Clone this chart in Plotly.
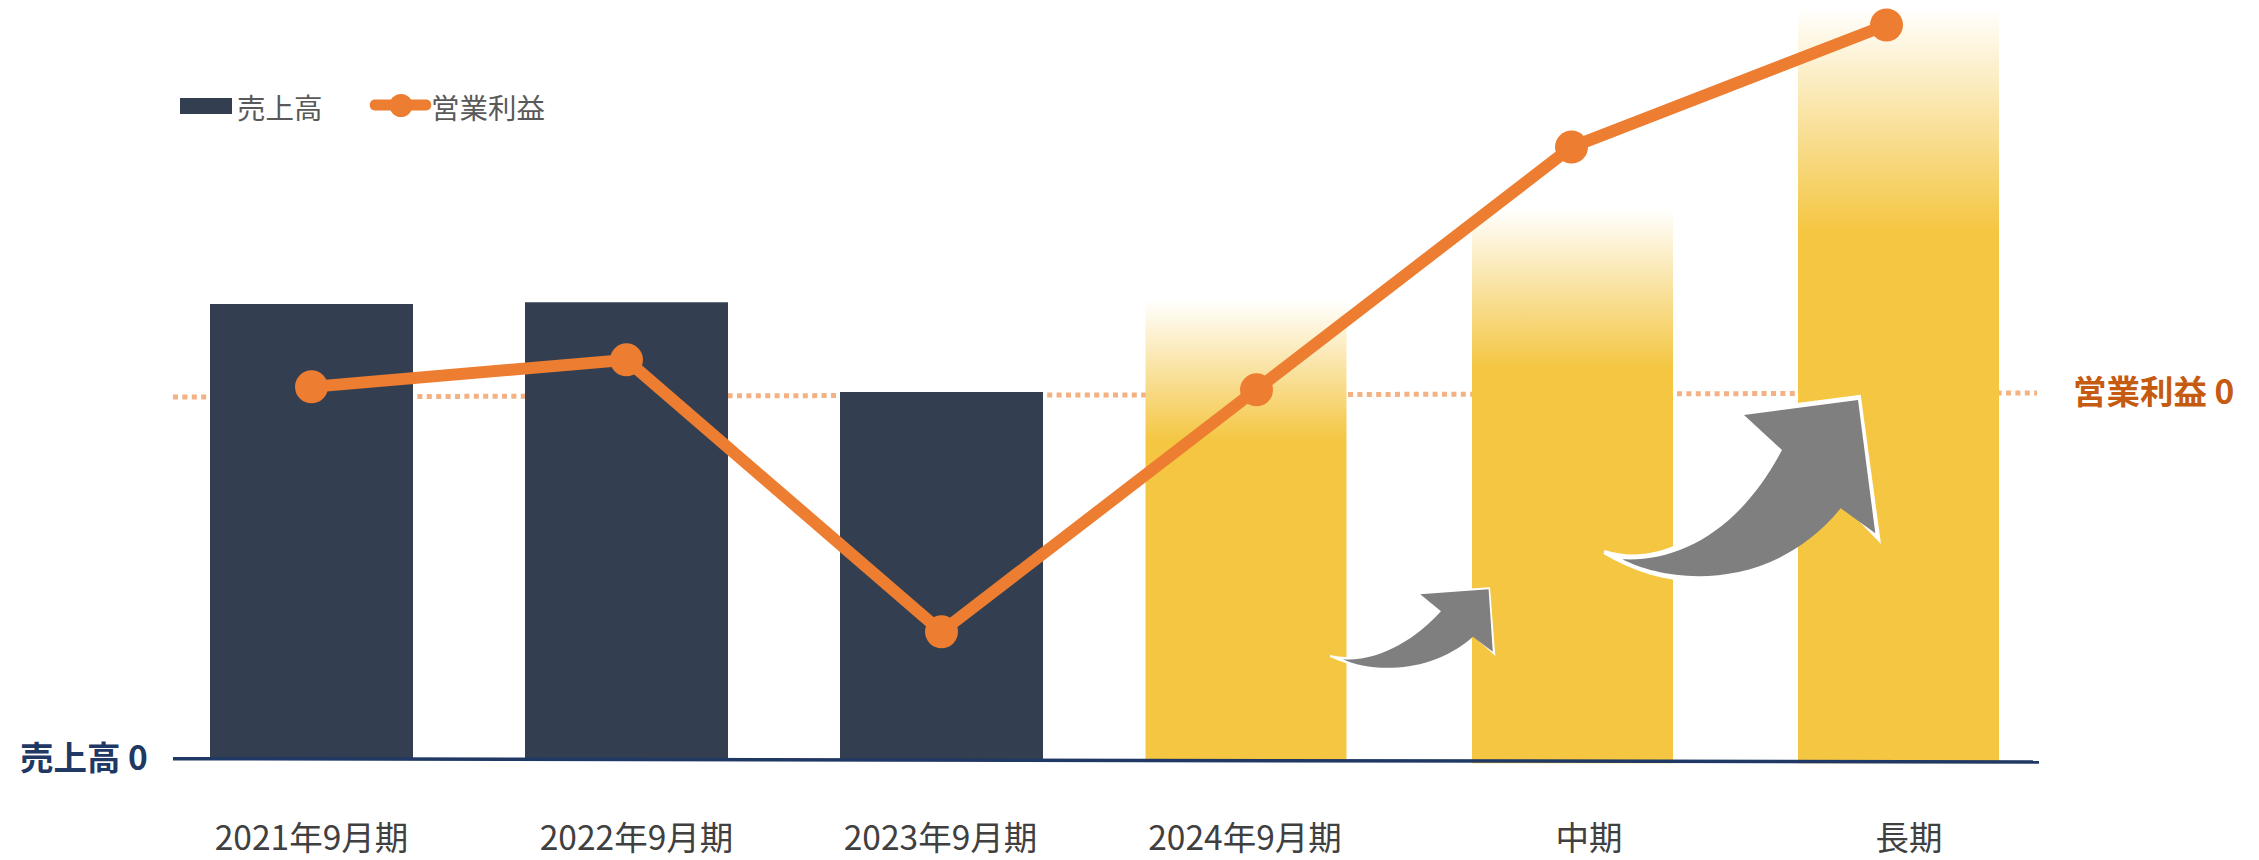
import plotly.graph_objects as go

# Chart data (values are on relative scales: sales index, profit index)
categories = ["2021年9月期", "2022年9月期", "2023年9月期", "2024年9月期", "中期", "長期"]
sales_actual = [100.0, 100.4, 80.7]
sales_plan = [100.9, 121.0, 165.0]
plan_base = [-0.2, -0.7, -0.7]
plan_fade_end = [70.0, 86.0, 116.0]
profit = [2.2, 9.5, -64.0, 1.4, 67.0, 100.0]

# Canvas and scales
W, H = 2259, 860
PLOT_BOTTOM = 764
SALES_ZERO_PX, SALES_PX_PER_UNIT = 760, 4.56
PROFIT_ZERO_PX, PROFIT_PX_PER_UNIT = 395, 3.7
X0_PX, STEP_PX = 311.5, 315.0

NAVY = "#333F50"
YELLOW = "#F4C642"
ORANGE = "#ED7D31"
DOT = "#F4B183"
GREY = "#7F7F7F"
AXIS_NAVY = "#1F3864"
FONT = "Noto Sans CJK JP"


def ux(px):
    return (px - X0_PX) / STEP_PX


def fx(px):
    return px / W


def fy(py):
    return (PLOT_BOTTOM - py) / PLOT_BOTTOM


def path(*segments):
    """Build an SVG path in paper coordinates from (command, x, y, ...) tuples."""
    parts = []
    for seg in segments:
        cmd, coords = seg[0], seg[1:]
        pairs = [
            f"{fx(coords[i]):.5f},{fy(coords[i + 1]):.5f}" for i in range(0, len(coords), 2)
        ]
        parts.append(cmd + " ".join(pairs))
    return " ".join(parts) + " Z"


actual_x = [0, 1, 2]
plan_x = [ux(1246), ux(1572.5), ux(1898.5)]
line_x = [0, 1, 2, 3, 4, 5]
label_x = [ux(311.5), ux(636.5), ux(940.5), ux(1245), ux(1589), ux(1909)]
actual_w = 203 / STEP_PX
plan_w = 201 / STEP_PX

fig = go.Figure()

fig.add_trace(
    go.Bar(
        x=actual_x,
        y=sales_actual,
        width=actual_w,
        marker=dict(color=NAVY, line=dict(width=0)),
        yaxis="y",
        name="売上高",
        showlegend=False,
    )
)

# Plan bars fade from white at the top into solid yellow
for cx, top, base, fade in zip(plan_x, sales_plan, plan_base, plan_fade_end):
    left, right = cx - plan_w / 2, cx + plan_w / 2
    frac = (top - fade) / (top - base)
    fig.add_trace(
        go.Scatter(
            x=[left, right, right, left, left],
            y=[base, base, top, top, base],
            mode="lines",
            line=dict(width=0),
            fill="toself",
            fillcolor=YELLOW,
            fillgradient=dict(
                type="vertical",
                start=top,
                stop=base,
                colorscale=[[0, "#FFFFFF"], [frac, YELLOW], [1, YELLOW]],
            ),
            yaxis="y",
            showlegend=False,
            hoverinfo="skip",
        )
    )

fig.add_trace(
    go.Scatter(
        x=line_x,
        y=profit,
        mode="lines+markers",
        line=dict(color=ORANGE, width=12),
        marker=dict(color=ORANGE, size=33, line=dict(width=0)),
        yaxis="y2",
        name="営業利益",
        showlegend=False,
    )
)

shapes = [
    # Profit zero reference, dotted and behind the bars
    dict(
        type="line", layer="below", xref="paper", yref="y2",
        x0=fx(173), x1=fx(2037), y0=-0.54, y1=0.54,
        line=dict(color=DOT, width=5, dash="5px,4.4px"),
    ),
    # Sales baseline
    dict(
        type="line", layer="above", xref="paper", yref="y",
        x0=fx(173), x1=fx(2039), y0=0.29, y1=-0.44,
        line=dict(color=AXIS_NAVY, width=3.5),
    ),
    # Legend: sales swatch
    dict(
        type="rect", xref="paper", yref="paper",
        x0=fx(180), x1=fx(232), y0=fy(114), y1=fy(98),
        fillcolor=NAVY, line=dict(width=0),
    ),
    # Legend: profit line with rounded ends and a marker
    dict(
        type="path", xref="paper", yref="paper",
        path=path(
            ("M", 375, 99.5), ("L", 426, 99.5),
            ("C", 433, 99.5, 433, 110.5, 426, 110.5),
            ("L", 375, 110.5),
            ("C", 368, 110.5, 368, 99.5, 375, 99.5),
        ),
        fillcolor=ORANGE, line=dict(width=0),
    ),
    dict(
        type="circle", xref="paper", yref="paper",
        x0=fx(389.5), x1=fx(412.5), y0=fy(117), y1=fy(94),
        fillcolor=ORANGE, line=dict(width=0),
    ),
]

# Growth arrows: a white backing polygon under a grey one
big_back = path(
    ("M", 1604.5, 550), ("C", 1630, 558, 1655, 555, 1680, 543),
    ("L", 1775, 450), ("L", 1735, 411), ("L", 1860.7, 394.7), ("L", 1881, 544),
    ("L", 1840.7, 502.3), ("C", 1775, 592, 1680, 600, 1603.5, 554),
)
big_front = path(
    ("M", 1622.5, 559.3), ("C", 1680, 562, 1740, 530, 1782, 450),
    ("L", 1744, 415), ("L", 1858, 400), ("L", 1875.3, 533.3), ("L", 1840.7, 508.3),
    ("C", 1770, 595, 1665, 582, 1622.5, 559.3),
)
small_back = path(
    ("M", 1330, 655), ("C", 1360, 662, 1395, 650, 1430, 610),
    ("L", 1415, 592), ("L", 1490, 587.3), ("L", 1495.3, 656), ("L", 1472.9, 635.5),
    ("C", 1430, 677, 1375, 677, 1330, 657),
)
small_front = path(
    ("M", 1342.7, 659.3), ("C", 1378, 662, 1415, 640, 1441, 611.3),
    ("L", 1420.2, 594.3), ("L", 1488.6, 589.3), ("L", 1492.8, 651.7), ("L", 1472.9, 636.7),
    ("C", 1430, 675, 1370, 672, 1342.7, 659.3),
)
for p, color in [
    (small_back, "#FFFFFF"), (small_front, GREY),
    (big_back, "#FFFFFF"), (big_front, GREY),
]:
    shapes.append(
        dict(type="path", xref="paper", yref="paper", path=p, fillcolor=color, line=dict(width=0))
    )

annotations = [
    dict(
        text="売上高 0", xref="paper", yref="y", x=fx(150), y=0.9, xanchor="right", yanchor="middle",
        showarrow=False, font=dict(family=FONT, size=33.5, color=AXIS_NAVY, weight="bold"),
    ),
    dict(
        text="営業利益 0", xref="paper", yref="y2", x=fx(2236), y=1.6, xanchor="right", yanchor="middle",
        showarrow=False, font=dict(family=FONT, size=33.5, color="#C55A11", weight="bold"),
    ),
    dict(
        text="売上高", xref="paper", yref="paper", x=fx(235), y=fy(106), xanchor="left", yanchor="middle",
        showarrow=False, font=dict(family=FONT, size=28.5, color="#595959"),
    ),
    dict(
        text="営業利益", xref="paper", yref="paper", x=fx(428.5), y=fy(106), xanchor="left", yanchor="middle",
        showarrow=False, font=dict(family=FONT, size=28.5, color="#595959"),
    ),
]

fig.update_layout(
    width=W,
    height=H,
    margin=dict(l=0, r=0, t=0, b=H - PLOT_BOTTOM, pad=0, autoexpand=False),
    paper_bgcolor="white",
    plot_bgcolor="white",
    showlegend=False,
    barmode="overlay",
    shapes=shapes,
    annotations=annotations,
    font=dict(family=FONT),
    xaxis=dict(
        range=[ux(0), ux(W)],
        automargin=False,
        tickmode="array",
        tickvals=label_x,
        ticktext=categories,
        ticks="outside",
        ticklen=45,
        tickcolor="rgba(0,0,0,0)",
        tickfont=dict(family=FONT, size=33.5, color="#404040"),
        showgrid=False,
        zeroline=False,
        showline=False,
        fixedrange=True,
    ),
    yaxis=dict(
        range=[
            (SALES_ZERO_PX - PLOT_BOTTOM) / SALES_PX_PER_UNIT,
            SALES_ZERO_PX / SALES_PX_PER_UNIT,
        ],
        automargin=False,
        visible=False,
        fixedrange=True,
    ),
    yaxis2=dict(
        range=[
            (PROFIT_ZERO_PX - PLOT_BOTTOM) / PROFIT_PX_PER_UNIT,
            PROFIT_ZERO_PX / PROFIT_PX_PER_UNIT,
        ],
        automargin=False,
        overlaying="y",
        side="right",
        visible=False,
        fixedrange=True,
    ),
)

fig.write_html("out.html", config=dict(displayModeBar=False))
